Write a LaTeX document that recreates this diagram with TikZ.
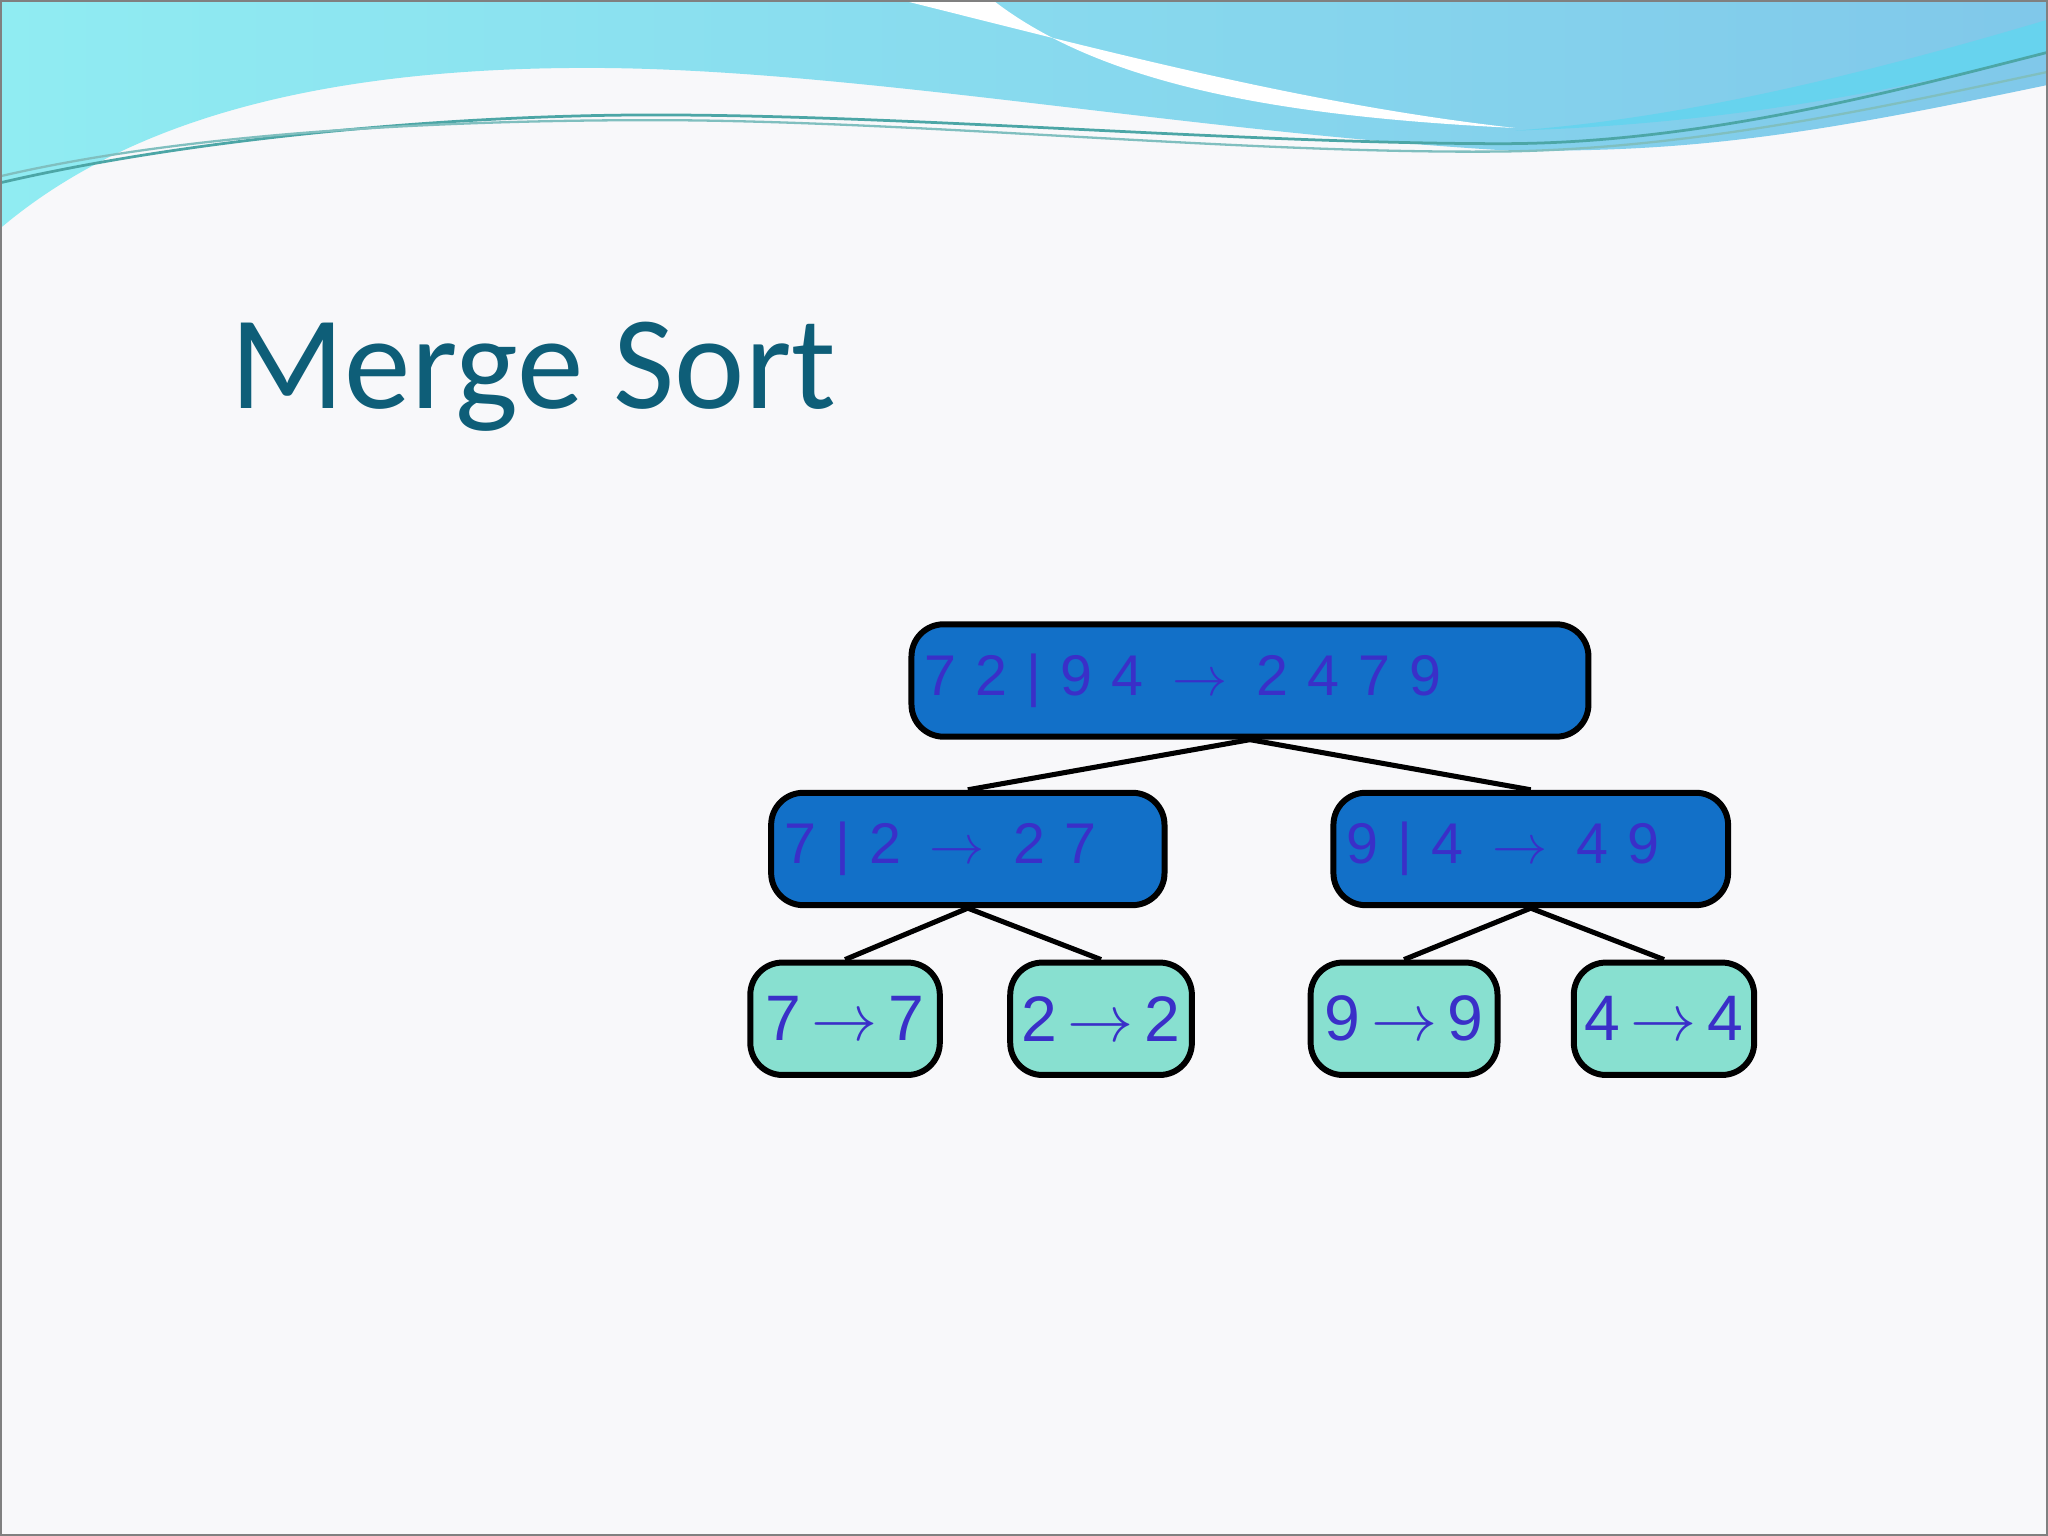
\documentclass[tikz,border=0pt]{standalone}
\usepackage{fontspec}
\setmainfont{Liberation Sans}
\newfontfamily\titlefont{Carlito}
\usetikzlibrary{positioning}
\definecolor{bg}{HTML}{F8F8FA}
\definecolor{topblue}{HTML}{1270C8}
\definecolor{leafc}{HTML}{88E0D0}
\definecolor{txtc}{HTML}{3A2FC8}
\definecolor{titlec}{HTML}{0E5E78}
\definecolor{wavea}{HTML}{90ECF2}
\definecolor{waveb}{HTML}{80C8EA}
\begin{document}
\begin{tikzpicture}[x=0.01cm,y=-0.01cm,
  inner/.style={draw=black,line width=1.3pt,rounded corners=7pt,fill=topblue,text=txtc,font=\fontsize{12.5}{14}\selectfont,inner sep=0pt},
  leaf/.style={draw=black,line width=1.3pt,rounded corners=7pt,fill=leafc,text=txtc,font=\fontsize{14}{16}\selectfont,inner sep=0pt},
  edge/.style={line width=1.1pt}]
\fill[bg] (0,0) rectangle (1568,1176);
\useasboundingbox (0,0) rectangle (1568,1176);
% header waves
\shade[left color=wavea,right color=waveb] (0,0) -- (1568,0) -- (1568,65) .. controls (1400,100) and (1300,118) .. (1150,115) .. controls (900,100) and (650,52) .. (450,52) .. controls (250,52) and (100,90) .. (0,175) -- cycle;
\fill[white] (690,0) .. controls (850,40) and (1000,80) .. (1160,98) .. controls (1000,90) and (850,70) .. (760,0) -- cycle;
\fill[waveb!80!cyan] (1568,15) .. controls (1450,50) and (1300,90) .. (1160,100) .. controls (1320,95) and (1450,70) .. (1568,40) -- cycle;
\draw[teal!70,line width=0.6pt] (0,140) .. controls (150,105) and (350,88) .. (500,88) .. controls (700,88) and (950,110) .. (1150,110) .. controls (1300,110) and (1450,70) .. (1568,40);
\draw[teal!50,line width=0.5pt] (0,135) .. controls (150,100) and (350,92) .. (500,92) .. controls (700,92) and (950,118) .. (1150,116) .. controls (1300,114) and (1450,80) .. (1568,55);
\draw[gray,line width=0.8pt] (0,0) rectangle (1568,1176);
% title
\node[anchor=base west,text=titlec,font=\titlefont\fontsize{29}{32}\selectfont,inner sep=0pt] (title) at (176,313) {Merge Sort};
% nodes
\node[inner,minimum width=518\pgflinewidth*0+5.18cm,minimum height=0.86cm,text width=4.98cm,align=left] (t) at (957,521) {7\,\,2\,\,\textbar\,\,9\,\,4\,\,\,$\rightarrow$\,\,\,2\,\,4\,\,7\,\,9};
\node[inner,minimum width=3.01cm,minimum height=0.86cm,text width=2.81cm,align=left] (l) at (741,650) {7\,\,\textbar\,\,2\,\,\,$\rightarrow$\,\,\,2\,\,7};
\node[inner,minimum width=3.02cm,minimum height=0.86cm,text width=2.82cm,align=left] (r) at (1172,650) {9\,\,\textbar\,\,4\,\,\,$\rightarrow$\,\,\,4\,\,9};
\node[leaf,minimum width=1.45cm,minimum height=0.86cm] (a) at (647,780) {7\,$\rightarrow$\,7};
\node[leaf,minimum width=1.39cm,minimum height=0.86cm] (b) at (843,780) {2\,$\rightarrow$\,2};
\node[leaf,minimum width=1.43cm,minimum height=0.86cm] (c) at (1075,780) {9\,$\rightarrow$\,9};
\node[leaf,minimum width=1.38cm,minimum height=0.86cm] (d) at (1274,780) {4\,$\rightarrow$\,4};
\draw[edge] (t.south) -- (l.north);
\draw[edge] (t.south) -- (r.north);
\draw[edge] (l.south) -- (a.north);
\draw[edge] (l.south) -- (b.north);
\draw[edge] (r.south) -- (c.north);
\draw[edge] (r.south) -- (d.north);
\end{tikzpicture}
\end{document}
